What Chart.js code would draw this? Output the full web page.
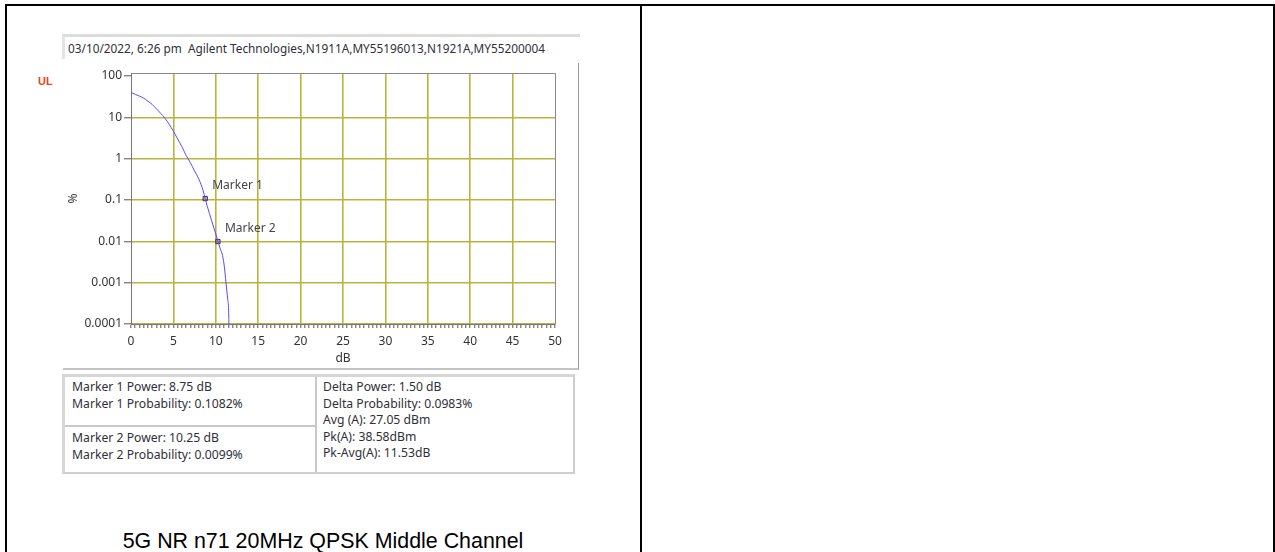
<!DOCTYPE html>
<html>
<head>
<meta charset="utf-8">
<script src="https://cdn.jsdelivr.net/npm/chart.js@4.4.0/dist/chart.umd.min.js"></script>
<style>
  body { margin: 0; background: #fff; width: 1275px; height: 552px; overflow: hidden; position: relative; }
  .abs { position: absolute; }
  .ui { font-family: "Noto Sans", sans-serif; font-size: 12.2px; color: #2f2f3a; }
  #frame { left: 5px; top: 4px; width: 1266px; height: 600px; border: 2px solid #000; }
  #divider { left: 640px; top: 4px; width: 2px; height: 560px; background: #000; }
  #header { left: 62px; top: 34px; width: 512px; height: 22px; border-top: 3px solid #dcdcdc; border-left: 3px solid #e4e4e4; background: #fff; line-height: 22px; font-size: 11.8px; padding-left: 3px; white-space: nowrap; }
  #panel { left: 63px; top: 63px; width: 515px; height: 305px; border-right: 1px solid #999; border-bottom: 2px solid #c4c4c4; }
  #ul { left: 38px; top: 75px; font-family: "Liberation Sans", Arial, sans-serif; font-weight: bold; font-size: 11px; color: #f0401e; }
  #chartBox { left: 60px; top: 62px; }
  #info { left: 62px; top: 374px; width: 508px; height: 95px; border-top: 3px solid #d6d6d6; border-left: 3px solid #d6d6d6; border-right: 2px solid #cfcfcf; border-bottom: 2px solid #cfcfcf; }
  .cell { position: absolute; line-height: 16.5px; white-space: nowrap; }
  #c1 { left: 0; top: 0; width: 252px; height: 50px; border: 1px solid #c8c8c8; border-width: 0 2px 2px 0; padding: 2px 0 0 7px; box-sizing: border-box; }
  #c2 { left: 0; top: 50px; width: 252px; height: 45px; border-right: 2px solid #c8c8c8; padding: 3px 0 0 7px; box-sizing: border-box; }
  #c3 { left: 252px; top: 0; width: 256px; height: 95px; padding: 2px 0 0 6px; box-sizing: border-box; }
  #caption { left: 6px; width: 634px; top: 529px; text-align: center; font-family: "Liberation Sans", Arial, sans-serif; font-size: 21.4px; color: #000; }
</style>
</head>
<body>
<div id="frame" class="abs"></div>
<div id="divider" class="abs"></div>
<div id="header" class="abs ui">03/10/2022, 6:26 pm&nbsp;&nbsp;Agilent Technologies,N1911A,MY55196013,N1921A,MY55200004</div>
<div id="panel" class="abs"></div>
<div id="ul" class="abs">UL</div>
<div id="chartBox" class="abs"><canvas id="ccdf" width="515" height="305"></canvas></div>
<div id="info" class="abs ui">
  <div id="c1" class="cell">Marker 1 Power: 8.75 dB<br>Marker 1 Probability: 0.1082%</div>
  <div id="c2" class="cell">Marker 2 Power: 10.25 dB<br>Marker 2 Probability: 0.0099%</div>
  <div id="c3" class="cell">Delta Power: 1.50 dB<br>Delta Probability: 0.0983%<br>Avg (A): 27.05 dBm<br>Pk(A): 38.58dBm<br>Pk-Avg(A): 11.53dB</div>
</div>
<div id="caption" class="abs">5G NR n71 20MHz QPSK Middle Channel</div>

<script>
// CCDF curve (power above average in dB, probability in %)
const powerDb = [0, 0.5, 1, 1.5, 2, 2.5, 3, 3.5, 4, 4.5, 5, 5.5, 6, 6.5, 7, 7.5, 8, 8.5, 8.75, 9, 9.5, 10, 10.25, 10.5, 10.8, 11, 11.2, 11.4, 11.5, 11.55];
const probPct = [40, 36, 32.5, 29, 24.5, 20.5, 16, 12.5, 9.5, 6.8, 4.6, 3.0, 1.95, 1.2, 0.8, 0.5, 0.32, 0.17, 0.108, 0.07, 0.032, 0.015, 0.0099, 0.0068, 0.0045, 0.0025, 0.001, 0.0004, 0.00025, 0.0001];

// markers
const markerNames = ['Marker 1', 'Marker 2'];
const markerPower = [8.75, 10.25];
const markerProb = [0.1082, 0.0099];

// axis ticks
const xTickLabels = [0, 5, 10, 15, 20, 25, 30, 35, 40, 45, 50];
const yTickValues = [0.0001, 0.001, 0.01, 0.1, 1, 10, 100];

const gridOlive = '#b7b63c';
const tickFont = { family: 'Noto Sans', size: 12 };

const markerLabels = {
  id: 'markerLabels',
  afterDatasetsDraw(chart) {
    const ctx = chart.ctx;
    const meta = chart.getDatasetMeta(1);
    ctx.save();
    ctx.font = '12px "Noto Sans"';
    ctx.fillStyle = '#444';
    ctx.textBaseline = 'middle';
    meta.data.forEach((pt, i) => {
      ctx.fillText(markerNames[i], pt.x + 7, pt.y - 13);
    });
    ctx.restore();
  }
};

// gray frame on top and right of the plot area
const plotFrame = {
  id: 'plotFrame',
  beforeDatasetsDraw(chart) {
    const { ctx, chartArea: a } = chart;
    ctx.save();
    ctx.strokeStyle = '#8a8a8a';
    ctx.lineWidth = 1;
    ctx.beginPath();
    ctx.moveTo(a.left, a.top + 0.5);
    ctx.lineTo(a.right + 0.5, a.top + 0.5);
    ctx.lineTo(a.right + 0.5, a.bottom);
    ctx.stroke();
    ctx.restore();
  }
};

new Chart(document.getElementById('ccdf'), {
  type: 'line',
  data: {
    datasets: [{
      data: powerDb.map((x, i) => ({ x: x, y: probPct[i] })),
      borderColor: '#5a48ff',
      borderWidth: 1,
      pointRadius: 0,
      cubicInterpolationMode: 'monotone',
      fill: false
    }, {
      data: markerPower.map((x, i) => ({ x: x, y: markerProb[i] })),
      showLine: false,
      pointStyle: 'rect',
      pointRadius: 3,
      borderColor: '#333',
      borderWidth: 1,
      backgroundColor: 'rgba(110,110,140,0.45)'
    }]
  },
  options: {
    responsive: false,
    devicePixelRatio: 1,
    animation: false,
    layout: { padding: { left: 0, right: 20, top: 11, bottom: 0 } },
    plugins: { legend: { display: false }, tooltip: { enabled: false } },
    scales: {
      x: {
        type: 'linear',
        min: 0,
        max: 50,
        afterFit: (s) => { s.height = 43; },
        ticks: {
          stepSize: 0.5,
          maxTicksLimit: 200,
          autoSkip: false,
          maxRotation: 0,
          padding: 6,
          color: '#333',
          font: tickFont,
          callback: (v) => xTickLabels.includes(v) ? String(v) : ''
        },
        grid: {
          color: (c) => (c.tick && c.tick.value % 5 === 0 && c.tick.value > 0 && c.tick.value < 50) ? gridOlive : 'rgba(0,0,0,0)',
          lineWidth: 1.6,
          tickColor: '#555',
          tickLength: 4,
          tickWidth: 1
        },
        border: { display: true, color: '#777', width: 1 },
        title: { display: true, text: 'dB', color: '#333', font: tickFont, padding: { top: 1, bottom: 1 } }
      },
      y: {
        type: 'logarithmic',
        min: 0.0001,
        max: 118,
        afterFit: (s) => { s.width = 71; },
        afterBuildTicks: (s) => { s.ticks = yTickValues.map(v => ({ value: v })); },
        ticks: {
          padding: 2,
          color: '#333',
          font: tickFont,
          callback: (v) => String(v)
        },
        grid: {
          color: (c) => (c.tick && c.tick.value < 100) ? gridOlive : 'rgba(0,0,0,0)',
          lineWidth: 1.6,
          tickColor: '#555',
          tickLength: 7,
          tickWidth: 1
        },
        border: { display: true, color: '#777', width: 1 },
        title: { display: true, text: '%', color: '#333', font: tickFont, padding: { top: 6, bottom: 2 } }
      }
    }
  },
  plugins: [plotFrame, markerLabels]
});
</script>
</body>
</html>
